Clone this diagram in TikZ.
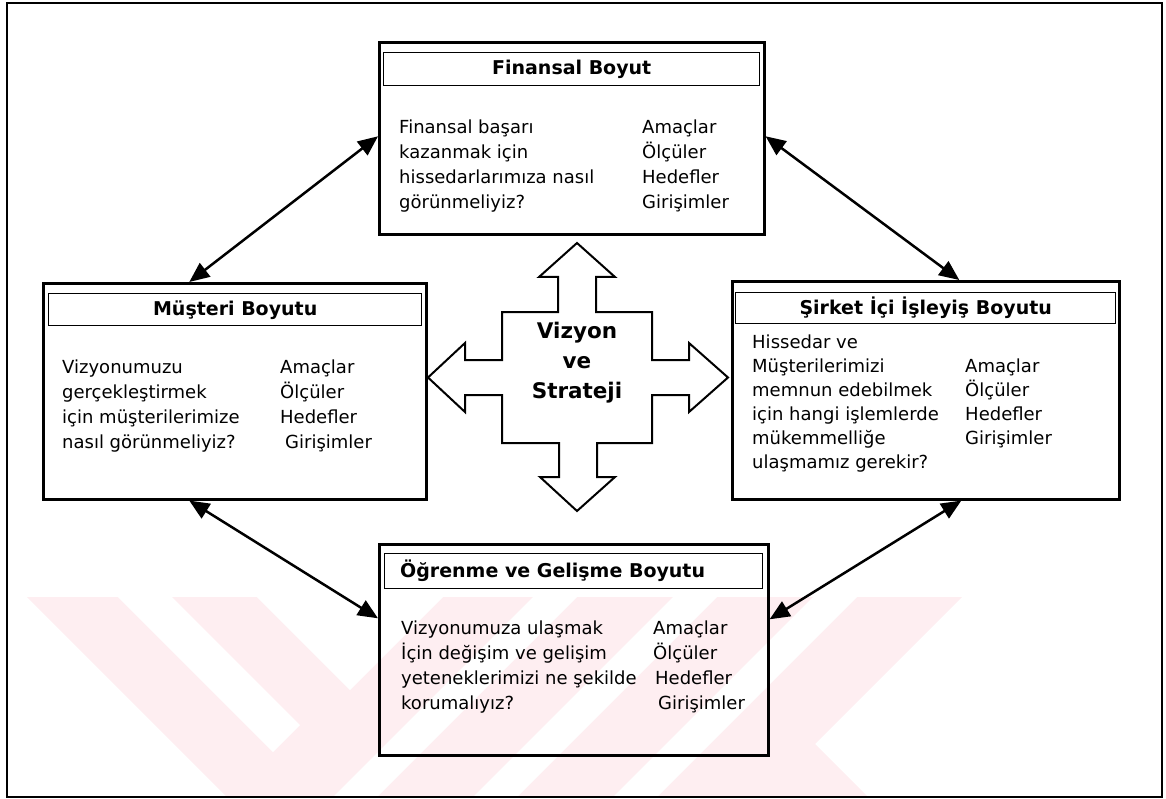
\documentclass[tikz,border=0pt]{standalone}
\usepackage{fontspec}
\setmainfont{DejaVu Sans}
\usetikzlibrary{arrows.meta}
\definecolor{wm}{RGB}{254,238,241}
\newcommand{\bodyfs}{\fontsize{18}{25}\selectfont}
\newcommand{\bodyfsb}{\fontsize{18}{24}\selectfont}
\newcommand{\titlefs}{\fontsize{19}{23}\selectfont\bfseries}
\newcommand{\firstln}{\rule{0pt}{18pt}}
\begin{document}
\begin{tikzpicture}[x=1pt,y=-1pt,
  bigbox/.style={draw, line width=2.6pt, anchor=north west, inner sep=0pt},
  titlebox/.style={draw, line width=1.4pt, anchor=north west, inner sep=0pt},
  ttl/.style={font=\titlefs, inner sep=0pt},
  col/.style={font=\bodyfs, anchor=north west, inner sep=0pt, align=left},
  conn/.style={line width=2.5pt, {Triangle[length=20pt,width=17pt]}-{Triangle[length=20pt,width=17pt]}},
  crossline/.style={draw, line width=2pt, line join=miter}
]
\useasboundingbox (0,0) rectangle (1166,799);
% watermark
\begin{scope}
\clip (7,3) rectangle (1162,797);
\fill[wm] (27,597) -- (962,597) -- (815,744) -- (868,797) -- (227,797) -- cycle;
\fill[white] (118,597) -- (172,597) -- (300,725) -- (273,752) -- cycle;
\fill[white] (257,597) -- (350,690) -- (443,597) -- cycle;
\fill[white] (533,597) -- (577,597) -- (377,797) -- (333,797) -- cycle;
\fill[white] (673,597) -- (717,597) -- (517,797) -- (473,797) -- cycle;
\fill[white] (813,597) -- (857,597) -- (657,797) -- (613,797) -- cycle;
\end{scope}
% outer frame
\draw[line width=2pt] (7,3) rectangle (1162,797);
% boxes
\node[bigbox, minimum width=385pt, minimum height=192pt] (fin) at (378,41) {};
\node[bigbox, minimum width=383pt, minimum height=216pt] (mus) at (42,282) {};
\node[bigbox, minimum width=387pt, minimum height=218pt] (sir) at (731,280) {};
\node[bigbox, minimum width=389pt, minimum height=211pt] (ogr) at (378,543) {};
\node[titlebox, minimum width=376pt, minimum height=33pt] (fint) at (383,52) {};
\node[titlebox, minimum width=373pt, minimum height=32pt] (must) at (48,293) {};
\node[titlebox, minimum width=380pt, minimum height=31pt] (sirt) at (735,292) {};
\node[titlebox, minimum width=378pt, minimum height=35pt] (ogrt) at (384,553) {};
% titles
\node[ttl] (fintt) at (fint.center) {Finansal Boyut};
\node[ttl] (mustt) at (must.center) {Müşteri Boyutu};
\node[ttl] (sirtt) at (sirt.center) {Şirket İçi İşleyiş Boyutu};
\node[ttl, anchor=west] (ogrtt) at ([xshift=16pt]ogrt.west) {Öğrenme ve Gelişme Boyutu};
% body texts
\node[col] (finl) at (399,115) {\firstln Finansal başarı\\kazanmak için\\hissedarlarımıza nasıl\\görünmeliyiz?};
\node[col] (finr) at (642,115) {\firstln Amaçlar\\Ölçüler\\Hedefler\\Girişimler};
\node[col] (musl) at (62,355) {\firstln Vizyonumuzu\\gerçekleştirmek\\için müşterilerimize\\nasıl görünmeliyiz?};
\node[col] (musr) at (280,355) {\firstln Amaçlar\\Ölçüler\\Hedefler\\\hspace{5pt}Girişimler};
\node[col, font=\bodyfsb] (sirl) at (752,330) {\firstln Hissedar ve\\Müşterilerimizi\\memnun edebilmek\\için hangi işlemlerde\\mükemmelliğe\\ulaşmamız gerekir?};
\node[col, font=\bodyfsb] (sirr) at (965,354) {\firstln Amaçlar\\Ölçüler\\Hedefler\\Girişimler};
\node[col] (ogrl) at (401,616) {\firstln Vizyonumuza ulaşmak\\İçin değişim ve gelişim\\yeteneklerimizi ne şekilde\\korumalıyız?};
\node[col] (ogrr) at (653,616) {\firstln Amaçlar\\Ölçüler\\\hspace{2pt}Hedefler\\\hspace{5pt}Girişimler};
% central cross arrow
\path[crossline] (577,243) -- (615,277) -- (596,277) -- (596,312) -- (652,312) -- (652,360)
  -- (689,360) -- (689,343) -- (728,377.5) -- (689,412) -- (689,395) -- (652,395)
  -- (652,443) -- (597,443) -- (597,477) -- (615,477) -- (577,511) -- (540,477)
  -- (559,477) -- (559,443) -- (502,443) -- (502,395) -- (465,395) -- (465,412)
  -- (428,377.5) -- (465,343) -- (465,360) -- (502,360) -- (502,312) -- (558,312)
  -- (558,277) -- (539,277) -- cycle;
\node[font=\fontsize{21.5}{30}\selectfont\bfseries, align=center, inner sep=0pt] (vs) at (577,363) {Vizyon\\ve\\Strateji};
% connectors
\draw[conn] ([xshift=-45.5pt]mus.north) -- ([yshift=2pt]fin.west);
\draw[conn] ([xshift=33.5pt]sir.north) -- ([yshift=2pt]fin.east);
\draw[conn] ([xshift=-45.5pt]mus.south) -- ([yshift=31.5pt]ogr.west);
\draw[conn] ([xshift=35.5pt]sir.south) -- ([yshift=30.5pt]ogr.east);
\end{tikzpicture}
\end{document}
